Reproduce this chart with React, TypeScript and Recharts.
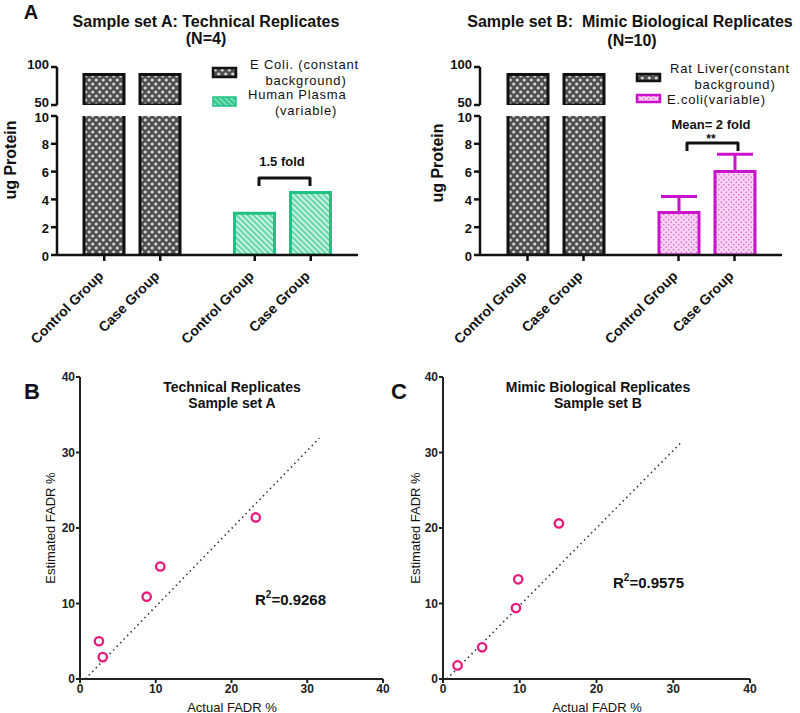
import React from 'react';
import {
  BarChart,
  Bar,
  Cell,
  ErrorBar,
  XAxis,
  YAxis,
  ScatterChart,
  Scatter,
  ReferenceLine
} from 'recharts';

const FONT = '"Liberation Sans", Arial, Helvetica, sans-serif';

// x-axis labels under each bar of a group
const groupNames = ['Control Group', 'Case Group'];

// Sample set A: technical replicates (ug protein)
const setASources = ['E Coli.', 'Human Plasma'];
const setAControl = [90, 3.0];
const setACase = [90, 4.5];

// Sample set B: mimic biological replicates (ug protein, mean + SD)
const setBSources = ['Rat Liver', 'E.coli'];
const setBControl = [90, 3.05];
const setBCase = [90, 6.0];
const setBControlErr = [null, 1.15];
const setBCaseErr = [null, 1.25];

const upperTicks = [50, 100];
const lowerTicks = [0, 2, 4, 6, 8, 10];

// FADR estimation (actual vs estimated, %)
const fadrTicks = [0, 10, 20, 30, 40];
const setAActual = [2.5, 3.0, 8.8, 10.6, 23.2];
const setAEstimated = [5.0, 2.9, 10.9, 14.9, 21.4];
const setAFit = [[0.7, 0], [31.6, 31.9]];
const setBActual = [1.9, 5.1, 9.5, 9.8, 15.1];
const setBEstimated = [1.8, 4.2, 9.4, 13.2, 20.6];
const setBFit = [[0.5, 0], [31.2, 31.5]];

const BAR_SIZE = 40;
const BAR_GAP = 16;

type Row = {
  source: string;
  control: number;
  case: number;
  controlErr: number[] | null;
  caseErr: number[] | null;
};

const buildRows = (
  sources: string[],
  control: number[],
  cases: number[],
  controlErr?: (number | null)[],
  caseErr?: (number | null)[]
): Row[] =>
  sources.map((s, i) => ({
    source: s,
    control: control[i],
    case: cases[i],
    controlErr: controlErr && controlErr[i] != null ? [0, controlErr[i] as number] : null,
    caseErr: caseErr && caseErr[i] != null ? [0, caseErr[i] as number] : null
  }));

const axisStyle = { stroke: '#111', strokeWidth: 2.5 };

// y tick of the broken axis; shift keeps "50" and "10" apart at the break
const yTick = (shift: number) => (p: any) => (
  <text
    x={p.x}
    y={p.y + shift}
    textAnchor="end"
    dominantBaseline="central"
    fontSize={13}
    fontWeight="bold"
    fontFamily={FONT}
    fill="#111"
  >
    {p.payload.value}
  </text>
);

const GroupTick = ({ x, y }: any) => {
  const off = (BAR_SIZE + BAR_GAP) / 2;
  return (
    <g>
      {[-off, off].map((d, i) => (
        <g key={i}>
          <line x1={x + d} y1={y} x2={x + d} y2={y + 6} stroke="#111" strokeWidth={2.5} />
          <text
            transform={`translate(${x + d},${y + 22}) rotate(-45)`}
            textAnchor="end"
            fontSize={14}
            fontWeight="bold"
            fontFamily={FONT}
            fill="#111"
          >
            {groupNames[i]}
          </text>
        </g>
      ))}
    </g>
  );
};

interface BrokenBarProps {
  left: number;
  marginLeft: number;
  marginRight: number;
  rows: Row[];
  variableFill: string;
  variableStroke: string;
  showErrors?: boolean;
}

const BrokenBarPanel: React.FC<BrokenBarProps> = ({
  left,
  marginLeft,
  marginRight,
  rows,
  variableFill,
  variableStroke,
  showErrors
}) => {
  const cells = (upper: boolean) =>
    rows.map((_, i) =>
      i === 0 ? (
        <Cell key={i} fill="url(#lattice)" stroke="#111" strokeWidth={3} />
      ) : upper ? (
        <Cell key={i} fill="transparent" stroke="none" />
      ) : (
        <Cell key={i} fill={variableFill} stroke={variableStroke} strokeWidth={3} />
      )
    );

  return (
    <>
      <div style={{ position: 'absolute', left, top: 106 }}>
        <BarChart
          width={400}
          height={240}
          data={rows}
          margin={{ top: 10, right: marginRight, bottom: 11, left: marginLeft }}
          barGap={BAR_GAP}
          barSize={BAR_SIZE}
        >
          <XAxis
            dataKey="source"
            height={80}
            interval={0}
            axisLine={axisStyle}
            tickLine={false}
            tickSize={0}
            tickMargin={0}
            tick={(p: any) => <GroupTick {...p} />}
          />
          <YAxis
            domain={[0, 10]}
            ticks={lowerTicks}
            allowDataOverflow
            interval={0}
            width={40}
            axisLine={axisStyle}
            tickLine={axisStyle}
            tickSize={6}
            tick={yTick(1)}
          />
          <Bar dataKey="control" isAnimationActive={false}>
            {cells(false)}
            {showErrors && (
              <ErrorBar dataKey="controlErr" width={18} strokeWidth={3} stroke={variableStroke} />
            )}
          </Bar>
          <Bar dataKey="case" isAnimationActive={false}>
            {cells(false)}
            {showErrors && (
              <ErrorBar dataKey="caseErr" width={18} strokeWidth={3} stroke={variableStroke} />
            )}
          </Bar>
        </BarChart>
      </div>
      <div style={{ position: 'absolute', left, top: 50 }}>
        <BarChart
          width={400}
          height={70}
          data={rows}
          margin={{ top: 17, right: marginRight, bottom: 15, left: marginLeft }}
          barGap={BAR_GAP}
          barSize={BAR_SIZE}
        >
          <XAxis dataKey="source" hide />
          <YAxis
            domain={[50, 100]}
            ticks={upperTicks}
            allowDataOverflow
            interval={0}
            width={40}
            axisLine={axisStyle}
            tickLine={axisStyle}
            tickSize={6}
            tick={yTick(-3)}
          />
          <Bar dataKey="control" isAnimationActive={false}>{cells(true)}</Bar>
          <Bar dataKey="case" isAnimationActive={false}>{cells(true)}</Bar>
        </BarChart>
      </div>
    </>
  );
};

const OpenCircle = (props: any) => (
  <circle cx={props.cx} cy={props.cy} r={4.2} fill="#fff" stroke="#e8197a" strokeWidth={2.3} />
);

interface FadrProps {
  left: number;
  marginLeft: number;
  marginRight: number;
  actual: number[];
  estimated: number[];
  fit: number[][];
}

const fadrTick = { fill: '#222', fontSize: 12, fontWeight: 'bold', fontFamily: FONT };
const fadrAxis = { stroke: '#222', strokeWidth: 2 };

const FadrPanel: React.FC<FadrProps> = ({ left, marginLeft, marginRight, actual, estimated, fit }) => {
  const points = actual.map((a, i) => ({ actual: a, estimated: estimated[i] }));
  return (
    <div style={{ position: 'absolute', left, top: 360 }}>
      <ScatterChart
        width={400}
        height={353}
        margin={{ top: 17, right: marginRight, bottom: 0, left: marginLeft }}
      >
        <XAxis
          type="number"
          dataKey="actual"
          domain={[0, 40]}
          ticks={fadrTicks}
          interval={0}
          height={34}
          axisLine={fadrAxis}
          tickLine={fadrAxis}
          tickSize={4}
          tickMargin={1}
          tick={fadrTick}
        />
        <YAxis
          type="number"
          dataKey="estimated"
          domain={[0, 40]}
          ticks={fadrTicks}
          interval={0}
          width={40}
          axisLine={fadrAxis}
          tickLine={fadrAxis}
          tickSize={4}
          tickMargin={1}
          tick={fadrTick}
        />
        <ReferenceLine
          segment={[
            { x: fit[0][0], y: fit[0][1] },
            { x: fit[1][0], y: fit[1][1] }
          ]}
          stroke="#333"
          strokeWidth={1.6}
          strokeDasharray="1.5 3.5"
        />
        <Scatter data={points} shape={OpenCircle} isAnimationActive={false} />
      </ScatterChart>
    </div>
  );
};

const T = (p: any) => (
  <text fontFamily={FONT} fill="#111" dominantBaseline="central" {...p} />
);

const Overlay = () => (
  <svg
    width={800}
    height={713}
    style={{ position: 'absolute', left: 0, top: 0, pointerEvents: 'none' }}
  >
    {/* panel letters */}
    <T x={31} y={12} fontSize={20} fontWeight="bold" textAnchor="middle">A</T>
    <T x={32} y={391} fontSize={22} fontWeight="bold" textAnchor="middle">B</T>
    <T x={399} y={391} fontSize={22} fontWeight="bold" textAnchor="middle">C</T>

    {/* titles of panel A */}
    <T x={206} y={21} fontSize={16} fontWeight="bold" textAnchor="middle">Sample set A: Technical Replicates</T>
    <T x={206} y={38} fontSize={16} fontWeight="bold" textAnchor="middle">(N=4)</T>
    <T x={630} y={21} fontSize={16} fontWeight="bold" textAnchor="middle" style={{ whiteSpace: 'pre' }}>
      Sample set B:  Mimic Biological Replicates
    </T>
    <T x={632} y={40} fontSize={16} fontWeight="bold" textAnchor="middle">(N=10)</T>

    {/* y axis titles */}
    <T x={10} y={160} fontSize={16} fontWeight="bold" textAnchor="middle" transform="rotate(-90 10 160)">ug Protein</T>
    <T x={437} y={163} fontSize={16} fontWeight="bold" textAnchor="middle" transform="rotate(-90 437 163)">ug Protein</T>

    {/* legend, set A */}
    <rect x={213} y={68} width={23} height={9} fill="url(#lattice)" stroke="#111" strokeWidth={2.5} />
    <T x={250} y={64} fontSize={13} letterSpacing={0.8}>E Coli. (constant</T>
    <T x={306} y={80} fontSize={13} letterSpacing={0.8} textAnchor="middle">background)</T>
    <rect x={213} y={97} width={23} height={9} fill="url(#hatchDark)" stroke="#1fc184" strokeWidth={1.5} />
    <T x={248} y={94} fontSize={13} letterSpacing={0.8}>Human Plasma</T>
    <T x={306} y={110} fontSize={13} letterSpacing={0.8} textAnchor="middle">(variable)</T>

    {/* legend, set B */}
    <rect x={637} y={74} width={23} height={7} fill="url(#lattice)" stroke="#111" strokeWidth={2.5} />
    <T x={670} y={68} fontSize={13} letterSpacing={0.8}>Rat Liver(constant</T>
    <T x={735} y={84} fontSize={13} letterSpacing={0.8} textAnchor="middle">background)</T>
    <rect x={637} y={95} width={23} height={7} fill="url(#pinkdots)" stroke="#cc11cc" strokeWidth={2.5} />
    <T x={667} y={99} fontSize={13} letterSpacing={0.8}>E.coli(variable)</T>

    {/* fold-change annotations */}
    <T x={282} y={161} fontSize={13} fontWeight="bold" textAnchor="middle">1.5 fold</T>
    <path d="M259 186 V178 H310 V186" fill="none" stroke="#111" strokeWidth={3} strokeLinejoin="round" />
    <T x={711} y={124} fontSize={13} fontWeight="bold" textAnchor="middle">Mean= 2 fold</T>
    <T x={711} y={139} fontSize={12} fontWeight="bold" textAnchor="middle">**</T>
    <path d="M687 151 V143 H738 V151" fill="none" stroke="#111" strokeWidth={3} strokeLinejoin="round" />

    {/* FADR panel titles */}
    <T x={232} y={387} fontSize={14} fontWeight="bold" textAnchor="middle">Technical Replicates</T>
    <T x={232} y={403} fontSize={14} fontWeight="bold" textAnchor="middle">Sample set A</T>
    <T x={598} y={387} fontSize={14} fontWeight="bold" textAnchor="middle">Mimic Biological Replicates</T>
    <T x={598} y={403} fontSize={14} fontWeight="bold" textAnchor="middle">Sample set B</T>

    <T x={50} y={528} fontSize={13} textAnchor="middle" transform="rotate(-90 50 528)">Estimated FADR %</T>
    <T x={415} y={528} fontSize={13} textAnchor="middle" transform="rotate(-90 415 528)">Estimated FADR %</T>
    <T x={232} y={707} fontSize={13} textAnchor="middle">Actual FADR %</T>
    <T x={597} y={707} fontSize={13} textAnchor="middle">Actual FADR %</T>

    <T x={255} y={599} fontSize={15} fontWeight="bold">
      R<tspan fontSize={10} dy={-5}>2</tspan><tspan dy={5}>=0.9268</tspan>
    </T>
    <T x={613} y={582} fontSize={15} fontWeight="bold">
      R<tspan fontSize={10} dy={-5}>2</tspan><tspan dy={5}>=0.9575</tspan>
    </T>
  </svg>
);

const Patterns = () => (
  <svg width={0} height={0} style={{ position: 'absolute' }}>
    <defs>
      <pattern id="lattice" width={7} height={8} patternUnits="userSpaceOnUse">
        <rect width={7} height={8} fill="#505050" />
        <circle cx={1.75} cy={2} r={1.6} fill="#d6d6d6" />
        <circle cx={5.25} cy={6} r={1.6} fill="#d6d6d6" />
      </pattern>
      <pattern id="hatch" width={4} height={4} patternUnits="userSpaceOnUse" patternTransform="rotate(-45)">
        <rect width={4} height={4} fill="#c9f2e1" />
        <line x1={2} y1={0} x2={2} y2={4} stroke="#3cc99a" strokeWidth={1.4} />
      </pattern>
      <pattern id="hatchDark" width={4} height={4} patternUnits="userSpaceOnUse" patternTransform="rotate(-45)">
        <rect width={4} height={4} fill="#2fc58c" />
        <line x1={2} y1={0} x2={2} y2={4} stroke="#a9ecd2" strokeWidth={1.2} />
      </pattern>
      <pattern id="pinkdots" width={5} height={5} patternUnits="userSpaceOnUse">
        <rect width={5} height={5} fill="#fad2f4" />
        <circle cx={1.25} cy={1.25} r={0.75} fill="#d44fcc" />
        <circle cx={3.75} cy={3.75} r={0.75} fill="#d44fcc" />
      </pattern>
    </defs>
  </svg>
);

export default function App() {
  const rowsA = buildRows(setASources, setAControl, setACase);
  const rowsB = buildRows(setBSources, setBControl, setBCase, setBControlErr, setBCaseErr);

  return (
    <div
      style={{
        position: 'absolute',
        left: 0,
        top: 0,
        width: 800,
        height: 713,
        background: '#fff',
        fontFamily: FONT,
        overflow: 'hidden'
      }}
    >
      <Patterns />
      <BrokenBarPanel
        left={0}
        marginLeft={17}
        marginRight={42}
        rows={rowsA}
        variableFill="url(#hatch)"
        variableStroke="#1fc184"
      />
      <BrokenBarPanel
        left={400}
        marginLeft={40}
        marginRight={18}
        rows={rowsB}
        variableFill="url(#pinkdots)"
        variableStroke="#cc11cc"
        showErrors
      />
      <FadrPanel
        left={0}
        marginLeft={40}
        marginRight={17}
        actual={setAActual}
        estimated={setAEstimated}
        fit={setAFit}
      />
      <FadrPanel
        left={400}
        marginLeft={3}
        marginRight={50}
        actual={setBActual}
        estimated={setBEstimated}
        fit={setBFit}
      />
      <Overlay />
    </div>
  );
}
